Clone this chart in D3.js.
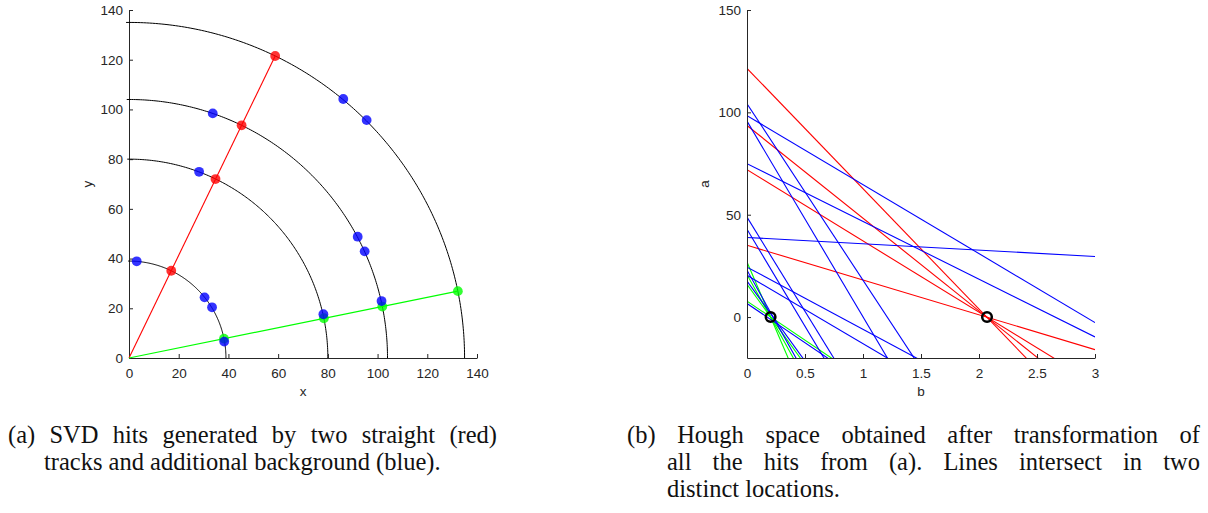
<!DOCTYPE html>
<html><head><meta charset="utf-8">
<script src="https://cdn.jsdelivr.net/npm/d3@7"></script>
<style>
  body { margin: 0; background: #fff; }
  .tick text, .axlabel { font-family: "Liberation Sans", Arial, sans-serif; font-size: 13.5px; fill: #262626; }
</style>
</head><body>
<svg id="fig" width="1208" height="513"></svg>
<script>
// SVD layer radii
const layerRadii = [39, 80, 104, 135];
// Hits left by the two straight tracks
const redHitsX = [17.0, 34.8, 45.3, 58.8];
const redHitsY = [35.1, 72.0, 93.6, 121.5];
const greenHitsX = [38.2, 78.4, 101.9, 132.3];
const greenHitsY = [7.8, 16.0, 20.7, 26.9];
// Background hits
const blueHitsX = [3.1, 30.4, 33.4, 38.3, 28.2, 78.2, 33.7, 92.0, 94.8, 101.6, 86.2, 95.6];
const blueHitsY = [38.9, 24.4, 20.4, 6.6, 74.9, 17.6, 98.4, 48.8, 42.9, 22.9, 104.2, 95.7];
// Intersections found in Hough space (b = slope, a = intercept)
const peakB = [0.2035, 2.069];
const peakA = [0, 0];
// Axis ticks
const xyTicks = [0, 20, 40, 60, 80, 100, 120, 140];
const bTicks = [0, 0.5, 1, 1.5, 2, 2.5, 3];
const aTicks = [0, 50, 100, 150];
// Captions
const captionA = ["(a) SVD hits generated by two straight (red)", "tracks and additional background (blue)."];
const captionB = ["(b) Hough space obtained after transformation of", "all the hits from (a). Lines intersect in two", "distinct locations."];

const svg = d3.select("#fig");
const AX = "#262626";
const SERIF = "'Liberation Serif', 'Times New Roman', serif";

function styleAxis(g) {
  g.select(".domain").attr("stroke", AX).attr("stroke-width", 1);
  g.selectAll(".tick line").attr("stroke", AX);
}

// ---------- (a) hits in the x-y plane ----------
const x = d3.scaleLinear().domain([0, 140]).range([129, 477]);
const y = d3.scaleLinear().domain([0, 140]).range([358, 10]);

const pA = svg.append("g");
pA.append("g").attr("transform", `translate(0,${y(0)})`)
  .call(d3.axisBottom(x).tickValues(xyTicks).tickSizeInner(-4).tickSizeOuter(0).tickPadding(10))
  .call(styleAxis);
pA.append("g").attr("transform", `translate(${x(0)},0)`)
  .call(d3.axisLeft(y).tickValues(xyTicks).tickSizeInner(-4).tickSizeOuter(0).tickPadding(6))
  .call(styleAxis);
pA.append("text").attr("class", "axlabel").attr("x", (x(0) + x(140)) / 2).attr("y", 396)
  .attr("text-anchor", "middle").text("x");
pA.append("text").attr("class", "axlabel").attr("transform", `translate(92,${(y(0) + y(140)) / 2}) rotate(-90)`)
  .attr("text-anchor", "middle").text("y");

// detector layers as quarter circles
const arcPts = d3.range(0, 91, 0.5).map(d => d * Math.PI / 180);
const arcLine = r => d3.line()(arcPts.map(t => [x(r * Math.cos(t)), y(r * Math.sin(t))]));
pA.selectAll("path.layer").data(layerRadii).join("path").attr("class", "layer")
  .attr("d", arcLine).attr("fill", "none").attr("stroke", "#000").attr("stroke-width", 1);

// tracks from the origin to their outermost hit
const tracks = [
  { xs: redHitsX, ys: redHitsY, c: "#ff0000" },
  { xs: greenHitsX, ys: greenHitsY, c: "#00ff00" }
];
tracks.forEach(t => {
  const last = t.xs.length - 1;
  pA.append("line").attr("x1", x(0)).attr("y1", y(0)).attr("x2", x(t.xs[last])).attr("y2", y(t.ys[last]))
    .attr("stroke", t.c).attr("stroke-width", 1.1);
});

const hitSets = [
  { xs: redHitsX, ys: redHitsY, c: "#ff0000" },
  { xs: greenHitsX, ys: greenHitsY, c: "#00ff00" },
  { xs: blueHitsX, ys: blueHitsY, c: "#0000ff" }
];
hitSets.forEach(s => {
  pA.append("g").selectAll("circle").data(s.xs.map((v, i) => [v, s.ys[i]])).join("circle")
    .attr("cx", d => x(d[0])).attr("cy", d => y(d[1])).attr("r", 4.9)
    .attr("fill", s.c).attr("fill-opacity", 0.8);
});

// ---------- (b) Hough space ----------
const b = d3.scaleLinear().domain([0, 3]).range([747, 1095]);
const a = d3.scaleLinear().domain([-20, 150]).range([358, 10]);

const pB = svg.append("g");
pB.append("clipPath").attr("id", "hclip").append("rect")
  .attr("x", b(0)).attr("y", a(150)).attr("width", b(3) - b(0)).attr("height", a(-20) - a(150));

const hough = pB.append("g").attr("clip-path", "url(#hclip)");
// each hit (x, y) becomes the line a = y - b * x
hitSets.forEach(s => {
  hough.append("g").selectAll("line").data(s.xs.map((v, i) => [v, s.ys[i]])).join("line")
    .attr("x1", b(0)).attr("y1", d => a(d[1]))
    .attr("x2", b(3)).attr("y2", d => a(d[1] - 3 * d[0]))
    .attr("stroke", s.c).attr("stroke-width", 1.1);
});

pB.append("g").attr("transform", `translate(0,${a(-20)})`)
  .call(d3.axisBottom(b).tickValues(bTicks).tickFormat(d3.format("~g")).tickSizeInner(-4).tickSizeOuter(0).tickPadding(10))
  .call(styleAxis);
pB.append("g").attr("transform", `translate(${b(0)},0)`)
  .call(d3.axisLeft(a).tickValues(aTicks).tickSizeInner(-4).tickSizeOuter(0).tickPadding(6))
  .call(styleAxis);
pB.append("text").attr("class", "axlabel").attr("x", (b(0) + b(3)) / 2).attr("y", 396)
  .attr("text-anchor", "middle").text("b");
pB.append("text").attr("class", "axlabel").attr("transform", `translate(709,${(a(-20) + a(150)) / 2}) rotate(-90)`)
  .attr("text-anchor", "middle").text("a");

pB.selectAll("circle.peak").data(peakB.map((v, i) => [v, peakA[i]])).join("circle").attr("class", "peak")
  .attr("cx", d => b(d[0])).attr("cy", d => a(d[1])).attr("r", 4.8)
  .attr("fill", "none").attr("stroke", "#000").attr("stroke-width", 2.5);

// ---------- captions ----------
// One text per caption line; justified lines stretch their word spacing to fill [x0, x1].
const capG = svg.append("g").attr("font-family", SERIF).attr("font-size", 24.5).attr("fill", "#111");
function captionLine(x0, x1, yb, str) {
  const t = capG.append("text").attr("x", x0).attr("y", yb).text(str);
  if (x1 != null) {
    const natural = t.node().getComputedTextLength();
    const spaces = str.split(" ").length - 1;
    t.attr("word-spacing", (x1 - x0 - natural) / spaces);
  }
}
captionLine(8, 497, 443, captionA[0]);
captionLine(44, null, 470, captionA[1]);
captionLine(627, 1200, 443, captionB[0]);
captionLine(667, 1200, 470, captionB[1]);
captionLine(667, null, 497, captionB[2]);
</script>
</body></html>
